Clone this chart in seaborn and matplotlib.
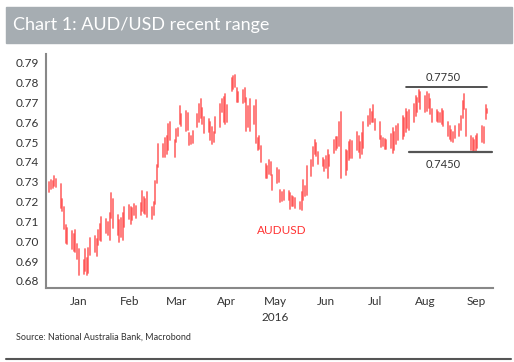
"""
AUD/USD recent range chart (daily high-low bars)
"""

import matplotlib
matplotlib.use("Agg")
import matplotlib.pyplot as plt
import matplotlib.dates as mdates
from matplotlib.patches import Rectangle
from matplotlib.lines import Line2D
import seaborn as sns
import pandas as pd
import numpy as np

# --- data -------------------------------------------------------------
start_date = "2015-12-28"
end_date = "2016-09-22"

# daily highs, one row per month (business days)
high = [
    0.7300, 0.7310, 0.7305, 0.7330,  # Dec
    0.7315, 0.7290, 0.7215, 0.7175, 0.7080, 0.7065, 0.7050, 0.7035, 0.7055, 0.6985,
    0.6960, 0.6905, 0.6960, 0.6915, 0.6965, 0.7015, 0.7025, 0.7010, 0.7055, 0.7085, 0.7120,  # Jan
    0.7110, 0.7095, 0.7140, 0.7245, 0.7215, 0.7130, 0.7105, 0.7115, 0.7140, 0.7175,
    0.7185, 0.7170, 0.7165, 0.7190, 0.7180, 0.7195, 0.7255, 0.7225, 0.7215, 0.7250, 0.7170,  # Feb
    0.7200, 0.7305, 0.7385, 0.7490, 0.7490, 0.7520, 0.7530, 0.7590, 0.7600, 0.7510,
    0.7565, 0.7570, 0.7680, 0.7640, 0.7655, 0.7645, 0.7545, 0.7530, 0.7555, 0.7640,
    0.7690, 0.7717, 0.7673,  # Mar
    0.7625, 0.7615, 0.7600, 0.7575, 0.7550, 0.7625, 0.7690, 0.7717, 0.7727, 0.7740,
    0.7687, 0.7822, 0.7835, 0.7840, 0.7773, 0.7750, 0.7765, 0.7775, 0.7720, 0.7680, 0.7717,  # Apr
    0.7680, 0.7712, 0.7522, 0.7530, 0.7480, 0.7390, 0.7380, 0.7410, 0.7400, 0.7335,
    0.7370, 0.7360, 0.7260, 0.7250, 0.7260, 0.7255, 0.7245, 0.7227, 0.7225, 0.7220,
    0.7200, 0.7250,  # May
    0.7310, 0.7277, 0.7380, 0.7410, 0.7477, 0.7510, 0.7495, 0.7450, 0.7420, 0.7410,
    0.7430, 0.7460, 0.7435, 0.7510, 0.7527, 0.7525, 0.7600, 0.7653, 0.7460, 0.7455,
    0.7500, 0.7510,  # Jun
    0.7507, 0.7552, 0.7530, 0.7500, 0.7545, 0.7600, 0.7630, 0.7665, 0.7650, 0.7685,
    0.7614, 0.7600, 0.7530, 0.7520, 0.7514, 0.7510, 0.7540, 0.7570, 0.7550, 0.7580, 0.7590,  # Jul
    0.7630, 0.7620, 0.7665, 0.7650, 0.7660, 0.7690, 0.7730, 0.7720, 0.7765, 0.7750,
    0.7730, 0.7750, 0.7740, 0.7715, 0.7665, 0.7660, 0.7650, 0.7645, 0.7665, 0.7655,
    0.7600, 0.7580, 0.7560,  # Aug
    0.7550, 0.7580, 0.7590, 0.7630, 0.7705, 0.7740, 0.7665, 0.7530, 0.7520, 0.7510,
    0.7530, 0.7540, 0.7580, 0.7575, 0.7685, 0.7665,  # Sep
]

# daily lows
low = [
    0.7250, 0.7262, 0.7268, 0.7280,  # Dec
    0.7275, 0.7165, 0.7150, 0.7060, 0.6990, 0.6985, 0.6960, 0.6950, 0.6945, 0.6910,
    0.6830, 0.6835, 0.6850, 0.6828, 0.6840, 0.6930, 0.6945, 0.6925, 0.6980, 0.7005, 0.7000,  # Jan
    0.7040, 0.7030, 0.7005, 0.7115, 0.7065, 0.7030, 0.6995, 0.7020, 0.7005, 0.7070,
    0.7110, 0.7085, 0.7105, 0.7130, 0.7115, 0.7130, 0.7150, 0.7140, 0.7135, 0.7120, 0.7110,  # Feb
    0.7130, 0.7190, 0.7295, 0.7375, 0.7425, 0.7425, 0.7440, 0.7460, 0.7510, 0.7425,
    0.7500, 0.7530, 0.7590, 0.7580, 0.7555, 0.7560, 0.7487, 0.7490, 0.7497, 0.7575,
    0.7600, 0.7620, 0.7590,  # Mar
    0.7545, 0.7550, 0.7510, 0.7490, 0.7500, 0.7545, 0.7575, 0.7650, 0.7600, 0.7590,
    0.7600, 0.7755, 0.7770, 0.7777, 0.7700, 0.7700, 0.7697, 0.7700, 0.7555, 0.7575, 0.7555,  # Apr
    0.7590, 0.7495, 0.7460, 0.7465, 0.7400, 0.7318, 0.7320, 0.7340, 0.7335, 0.7260,
    0.7295, 0.7300, 0.7200, 0.7205, 0.7210, 0.7210, 0.7160, 0.7177, 0.7180, 0.7165,
    0.7160, 0.7155,  # May
    0.7210, 0.7227, 0.7235, 0.7330, 0.7377, 0.7440, 0.7430, 0.7390, 0.7377, 0.7352,
    0.7370, 0.7318, 0.7377, 0.7443, 0.7460, 0.7470, 0.7480, 0.7318, 0.7335, 0.7360,
    0.7410, 0.7418,  # Jun
    0.7420, 0.7460, 0.7452, 0.7418, 0.7440, 0.7470, 0.7580, 0.7590, 0.7600, 0.7600,
    0.7560, 0.7514, 0.7473, 0.7480, 0.7463, 0.7465, 0.7470, 0.7443, 0.7460, 0.7490, 0.7510,  # Jul
    0.7514, 0.7530, 0.7552, 0.7570, 0.7560, 0.7600, 0.7630, 0.7650, 0.7700, 0.7665,
    0.7650, 0.7656, 0.7670, 0.7640, 0.7600, 0.7605, 0.7600, 0.7600, 0.7590, 0.7580,
    0.7530, 0.7514, 0.7505,  # Aug
    0.7500, 0.7520, 0.7530, 0.7560, 0.7620, 0.7665, 0.7531, 0.7460, 0.7455, 0.7455,
    0.7452, 0.7470, 0.7500, 0.7497, 0.7615, 0.7645,  # Sep
]

y_ticks = [0.68, 0.69, 0.70, 0.71, 0.72, 0.73, 0.74, 0.75, 0.76, 0.77, 0.78, 0.79]

range_top = 0.7777
range_bottom = 0.7451
range_top_label = "0.7750"
range_bottom_label = "0.7450"

title = "Chart 1: AUD/USD recent range"
source = "Source: National Australia Bank, Macrobond"
series_name = "AUDUSD"

# --- build long table: two rows per day (low and high) -----------------
dates = pd.bdate_range(start_date, end_date)
bars = pd.DataFrame({"date": dates, "high": high, "low": low})
bars["day"] = np.arange(len(bars))
long = bars.melt(id_vars=["date", "day"], value_vars=["low", "high"],
                 value_name="price")

# --- plot ---------------------------------------------------------------
sns.set_style("white")
plt.rcParams["font.family"] = ["Lato", "DejaVu Sans"]

fig = plt.figure(figsize=(5.14, 3.62), dpi=100)
ax = fig.add_axes([0.0895, 0.2044, 0.8696, 0.6464])

red = "#ff4444"
sns.lineplot(data=long, x="date", y="price", units="day", estimator=None,
             color=red, linewidth=1.3, alpha=0.75, ax=ax, legend=False)

ax.set_xlim(pd.Timestamp("2015-12-25 22:00"), pd.Timestamp("2016-09-25 14:00"))
ax.set_ylim(0.6764, 0.7944)
ax.set_yticks(y_ticks)
ax.set_yticklabels([f"{t:.2f}" for t in y_ticks])

ax.xaxis.set_major_locator(mdates.MonthLocator())
ax.xaxis.set_major_formatter(plt.NullFormatter())
ax.xaxis.set_minor_locator(mdates.MonthLocator(bymonthday=15))
ax.xaxis.set_minor_formatter(mdates.DateFormatter("%b"))
ax.tick_params(axis="x", which="major", direction="out", length=3, width=1,
               color="#888888")
ax.tick_params(axis="x", which="minor", length=0, pad=6, labelsize=8.5,
               labelcolor="#333333")
ax.tick_params(axis="y", direction="out", length=3, width=1, pad=2,
               color="#888888", labelsize=8.5, labelcolor="#333333")
ax.set_xlabel("")
ax.set_ylabel("")

sns.despine(ax=ax)
for side in ["left", "bottom"]:
    ax.spines[side].set_color("#888888")
    ax.spines[side].set_linewidth(1.5)

# year label under May
ax.text(pd.Timestamp("2016-05-15"), -0.128, "2016", transform=ax.get_xaxis_transform(),
        ha="center", va="center", fontsize=8.5, color="#333333")

# range lines and labels
ax.plot([pd.Timestamp("2016-08-03"), pd.Timestamp("2016-09-22")], [range_top, range_top],
        color="#333333", linewidth=1.2)
ax.plot([pd.Timestamp("2016-08-05"), pd.Timestamp("2016-09-25")], [range_bottom, range_bottom],
        color="#555555", linewidth=1.6)
ax.text(pd.Timestamp("2016-08-26"), 0.7824, range_top_label, ha="center", va="center",
        fontsize=8, color="#333333")
ax.text(pd.Timestamp("2016-08-26"), 0.7389, range_bottom_label, ha="center", va="center",
        fontsize=8, color="#333333")

ax.text(pd.Timestamp("2016-05-19"), 0.7056, series_name, ha="center", va="center",
        fontsize=8.5, color="#ff3333")

# title banner
fig.patches.append(Rectangle((6 / 514, 1 - 43 / 362), 506 / 514, 36 / 362,
                             transform=fig.transFigure, color="#a6adb2", zorder=0))
fig.text(13 / 514, 1 - 25 / 362, title, ha="left", va="center", fontsize=13,
         color="white")

# source and bottom rule
fig.text(16 / 514, 1 - 337 / 362, source, ha="left", va="center", fontsize=6.5,
         color="#333333")
fig.lines.append(Line2D([6 / 514, 511 / 514], [1 - 359 / 362, 1 - 359 / 362],
                        transform=fig.transFigure, color="#555555", linewidth=1.5))

fig.savefig("out.png", dpi=100)
